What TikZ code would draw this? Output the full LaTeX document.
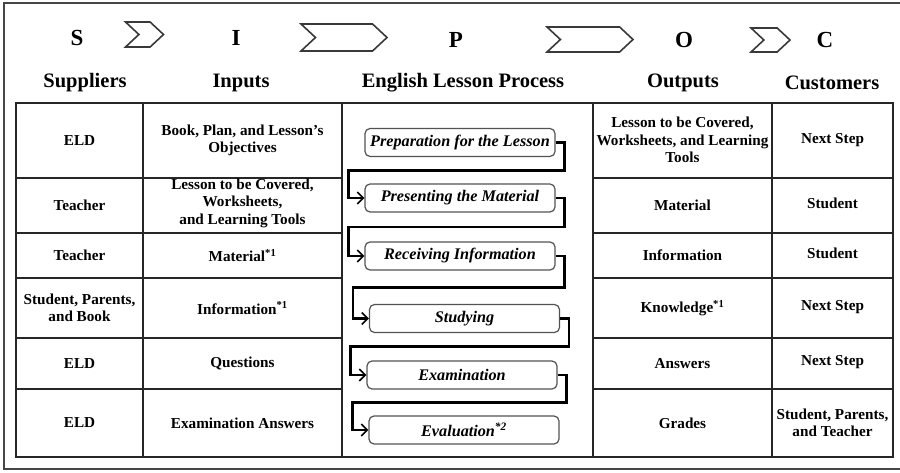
\documentclass[tikz,border=0pt]{standalone}
\usepackage{fontspec}
\setmainfont{Liberation Serif}
\usetikzlibrary{arrows.meta, positioning, calc, shapes.symbols}

\begin{document}
\begin{tikzpicture}[x=1pt, y=-1pt,
        letter/.style={font=\fontsize{23}{26}\selectfont\bfseries},
        head/.style={font=\fontsize{20.5}{23}\selectfont\bfseries},
        cell/.style={align=center, inner sep=1pt, font=\fontsize{15.2}{17.5}\selectfont\bfseries},
        chev/.style={signal, signal from=west, signal to=east, signal pointer angle=86, draw=gray!45!black, line width=1.6pt, inner sep=0pt},
        stepbox/.style={rectangle, rounded corners=5pt, draw=gray!65!black, line width=1.2pt, fill=white, minimum width=190pt, minimum height=28pt, inner sep=0pt, font=\fontsize{16.2}{18}\selectfont\bfseries\itshape},
        flow/.style={line width=2.6pt, -{Straight Barb[line width=1.6pt, length=6pt, width=12pt]}},
        grid/.style={draw=gray!30!black, line width=1.4pt},
        frame/.style={draw=gray!55!black, line width=2.8pt}
    ]
        \useasboundingbox (0,0) rectangle (900,473);

        % outer frame, open to the right
        \draw[frame] (900,3) -- (4,3) -- (4,469) -- (900,469);

        % S I P O C letters with chevrons between them
        \node[letter] (lsup) at (77,38) {S};
        \node[letter] (linp) at (236,38) {I};
        \node[letter] (lpro) at (456,40) {P};
        \node[letter] (lout) at (684,40) {O};
        \node[letter] (lcus) at (825,40) {C};

        \node[chev, minimum width=38pt, minimum height=25pt] (chev1) at (144.5,34.5) {};
        \node[chev, minimum width=86pt, minimum height=27pt] (chev2) at (344,37.5) {};
        \node[chev, minimum width=86pt, minimum height=25pt] (chev3) at (590,39.5) {};
        \node[chev, minimum width=39pt, minimum height=24pt] (chev4) at (770.5,40) {};

        \node[head] (hsup) at (85,83) {Suppliers};
        \node[head] (hinp) at (241,83) {Inputs};
        \node[head] (hpro) at (463,83) {English Lesson Process};
        \node[head] (hout) at (683,83) {Outputs};
        \node[head] (hcus) at (832,83) {Customers};

        % table grid
        \draw[grid] (16,103) rectangle (893,457);
        \foreach \x in {143,342,593,772}
            \draw[grid] (\x,103) -- (\x,457);
        \foreach \y in {178,233,278,338,389} {
            \draw[grid] (16,\y) -- (342,\y);
            \draw[grid] (593,\y) -- (893,\y);
        }

        % suppliers
        \node[cell] (sup1) at (79.5,140.5) {ELD};
        \node[cell] (sup2) at (79.5,205.5) {Teacher};
        \node[cell] (sup3) at (79.5,255.5) {Teacher};
        \node[cell] (sup4) at (79.5,308) {Student, Parents,\\and Book};
        \node[cell] (sup5) at (79.5,363.5) {ELD};
        \node[cell] (sup6) at (79.5,423) {ELD};

        % inputs
        \node[cell] (inp1) at (242.5,140.5) {Book, Plan, and Lesson's\\Objectives};
        \node[cell] (inp2) at (242.5,203) {Lesson to be Covered,\\Worksheets,\\and Learning Tools};
        \node[cell] (inp3) at (242.5,255.5) {Material\textsuperscript{*1}};
        \node[cell] (inp4) at (242.5,308) {Information\textsuperscript{*1}};
        \node[cell] (inp5) at (242.5,363.5) {Questions};
        \node[cell] (inp6) at (242.5,423) {Examination Answers};

        % outputs
        \node[cell] (out1) at (682.5,140) {Lesson to be Covered,\\Worksheets, and Learning\\Tools};
        \node[cell] (out2) at (682.5,205.5) {Material};
        \node[cell] (out3) at (682.5,255.5) {Information};
        \node[cell] (out4) at (682.5,308) {Knowledge\textsuperscript{*1}};
        \node[cell] (out5) at (682.5,363.5) {Answers};
        \node[cell] (out6) at (682.5,423) {Grades};

        % customers
        \node[cell] (cus1) at (832.5,140.5) {Next Step};
        \node[cell] (cus2) at (832.5,203) {Student};
        \node[cell] (cus3) at (832.5,253) {Student};
        \node[cell] (cus4) at (832.5,307) {Next Step};
        \node[cell] (cus5) at (832.5,362) {Next Step};
        \node[cell] (cus6) at (832.5,423) {Student, Parents,\\and Teacher};

        % lesson process steps
        \node[stepbox] (prep) at (460,142.5) {Preparation for the Lesson};
        \node[stepbox] (pres) at (460,198) {Presenting the Material};
        \node[stepbox] (recv) at (460,256) {Receiving Information};
        \node[stepbox] (stud) at (464.5,318.5) {Studying};
        \node[stepbox] (exam) at (462,375) {Examination};
        \node[stepbox] (eval) at (464,430) {Evaluation\textsuperscript{*2}};

        \foreach \a/\b in {prep/pres, pres/recv, recv/stud, stud/exam, exam/eval}
            \draw[flow] (\a.east) -- ++(9,0) |- ($(\a.south)!.5!(\b.north)$) -| ([xshift=-16pt]\b.west) -- (\b.west);
    \end{tikzpicture}
\end{document}
